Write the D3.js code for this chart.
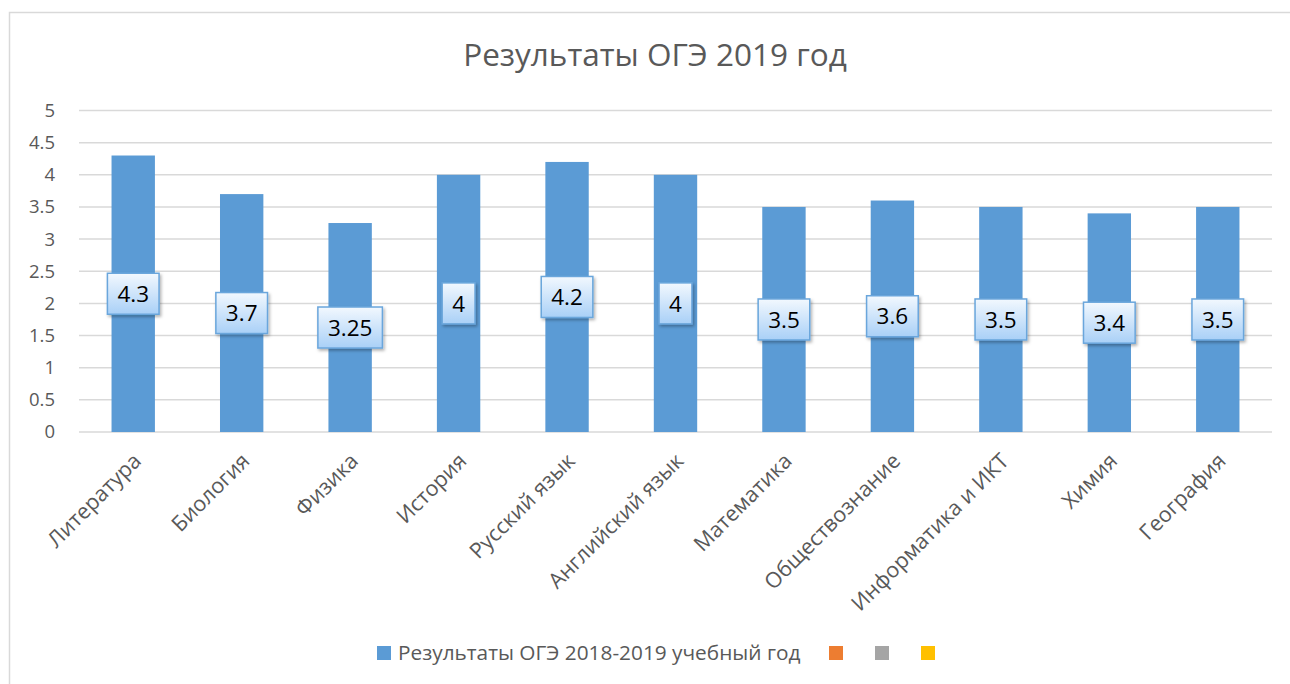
<!DOCTYPE html>
<html>
<head>
<meta charset="utf-8">
<script src="https://cdn.jsdelivr.net/npm/d3@7"></script>
<style>
  body { margin: 0; background: #fff; }
  svg { display: block; font-family: "Open Sans", sans-serif; }
</style>
</head>
<body>
<svg></svg>
<script>
'use strict';

// data
var subjects = ['Литература', 'Биология', 'Физика', 'История', 'Русский язык',
  'Английский язык', 'Математика', 'Обществознание', 'Информатика и ИКТ', 'Химия', 'География'];
var scores = [4.3, 3.7, 3.25, 4, 4.2, 4, 3.5, 3.6, 3.5, 3.4, 3.5];
var yTicks = [0, 0.5, 1, 1.5, 2, 2.5, 3, 3.5, 4, 4.5, 5];
var legendNames = ['Результаты ОГЭ 2018-2019 учебный год', '', '', ''];
var legendColors = ['#5b9bd5', '#ed7d31', '#a5a5a5', '#ffc000'];

var SVG_SIZE = {width: 1290, height: 684};
var MARGIN = {left: 79, right: 18, top: 110.5, bottom: 252};

var svg = d3.select('svg')
  .attr('width', SVG_SIZE.width).attr('height', SVG_SIZE.height);

var plotW = SVG_SIZE.width - MARGIN.left - MARGIN.right;
var plotH = SVG_SIZE.height - MARGIN.top - MARGIN.bottom;

// chart frame (runs off the right and bottom edges)
svg.append('rect')
  .attr('x', 9.5).attr('y', 12.5)
  .attr('width', 1300).attr('height', 700)
  .attr('fill', '#fff').attr('stroke', '#d9d9d9').attr('stroke-width', 1.5);

// title
svg.append('text')
  .attr('x', 655).attr('y', 66)
  .attr('text-anchor', 'middle')
  .attr('font-size', 31.5)
  .attr('fill', '#595959')
  .text('Результаты ОГЭ 2019 год');

var xScale = d3.scaleBand()
  .domain(subjects)
  .range([0, plotW])
  .paddingInner(0.6)
  .paddingOuter(0.3);

var yScale = d3.scaleLinear()
  .domain([0, 5])
  .range([plotH, 0]);

var plot = svg.append('g')
  .attr('transform', 'translate(' + MARGIN.left + ',' + MARGIN.top + ')');

// gridlines
plot.append('g').selectAll('line').data(yTicks).enter().append('line')
  .attr('x1', 0).attr('x2', plotW)
  .attr('y1', function(d){ return yScale(d); })
  .attr('y2', function(d){ return yScale(d); })
  .attr('stroke', '#d9d9d9').attr('stroke-width', 1.5);

// y axis labels
var yAxis = d3.axisLeft(yScale).tickValues(yTicks).tickSize(0).tickPadding(24)
  .tickFormat(function(d){ return String(d); });
var yG = plot.append('g').call(yAxis);
yG.select('.domain').remove();
yG.selectAll('text').attr('font-size', 18.5).attr('fill', '#595959')
  .attr('font-family', '"Open Sans", sans-serif');

// bars
plot.append('g').selectAll('rect').data(scores).enter().append('rect')
  .attr('x', function(d, i){ return xScale(subjects[i]); })
  .attr('y', function(d){ return yScale(d); })
  .attr('width', xScale.bandwidth())
  .attr('height', function(d){ return plotH - yScale(d); })
  .attr('fill', '#5b9bd5');

// x axis labels
var xAxis = d3.axisBottom(xScale).tickSize(0).tickPadding(0);
var xG = plot.append('g')
  .attr('transform', 'translate(0,' + plotH + ')')
  .call(xAxis);
xG.select('.domain').remove();
xG.selectAll('text')
  .attr('font-size', 21.5).attr('fill', '#595959')
  .attr('font-family', '"Open Sans", sans-serif')
  .attr('text-anchor', 'end')
  .attr('dy', '0.35em')
  .attr('transform', 'translate(4,25) rotate(-45)');

// data label callouts
var defs = svg.append('defs');
var grad = defs.append('linearGradient').attr('id', 'lblGrad')
  .attr('x1', 0).attr('y1', 0).attr('x2', 0).attr('y2', 1);
grad.append('stop').attr('offset', '0%').attr('stop-color', '#f2f8fe');
grad.append('stop').attr('offset', '100%').attr('stop-color', '#a9d0f7');
var shadow = defs.append('filter').attr('id', 'lblShadow')
  .attr('x', '-20%').attr('y', '-20%').attr('width', '150%').attr('height', '150%');
shadow.append('feDropShadow').attr('dx', 1.5).attr('dy', 2).attr('stdDeviation', 1.5)
  .attr('flood-color', '#000').attr('flood-opacity', 0.3);

var labels = plot.append('g').selectAll('g').data(scores).enter().append('g')
  .attr('transform', function(d, i){
    return 'translate(' + (xScale(subjects[i]) + xScale.bandwidth() / 2) + ',' + yScale(d / 2) + ')';
  });
var labelRects = labels.append('rect');
var labelTexts = labels.append('text')
  .attr('text-anchor', 'middle')
  .attr('dy', '0.36em')
  .attr('font-size', 22.5)
  .attr('fill', '#000')
  .text(function(d){ return String(d); });
labelTexts.each(function(d, i){
  var w = this.getComputedTextLength() + 20;
  d3.select(labelRects.nodes()[i])
    .attr('x', -w / 2).attr('y', -20.5)
    .attr('width', w).attr('height', 41)
    .attr('fill', 'url(#lblGrad)')
    .attr('stroke', '#6aa6dc').attr('stroke-width', 1.5)
    .attr('filter', 'url(#lblShadow)');
});

// legend
var legend = svg.append('g').attr('transform', 'translate(377,646)');
var legendX = [0, 452, 498, 544];
var legendItems = legend.selectAll('g').data(legendNames).enter().append('g')
  .attr('transform', function(d, i){ return 'translate(' + legendX[i] + ',0)'; });
legendItems.append('rect')
  .attr('width', 14).attr('height', 14)
  .attr('fill', function(d, i){ return legendColors[i]; });
legendItems.append('text')
  .attr('x', 21).attr('y', 7).attr('dy', '0.35em')
  .attr('font-size', 20.8).attr('fill', '#595959')
  .text(function(d){ return d; });
</script>
</body>
</html>
